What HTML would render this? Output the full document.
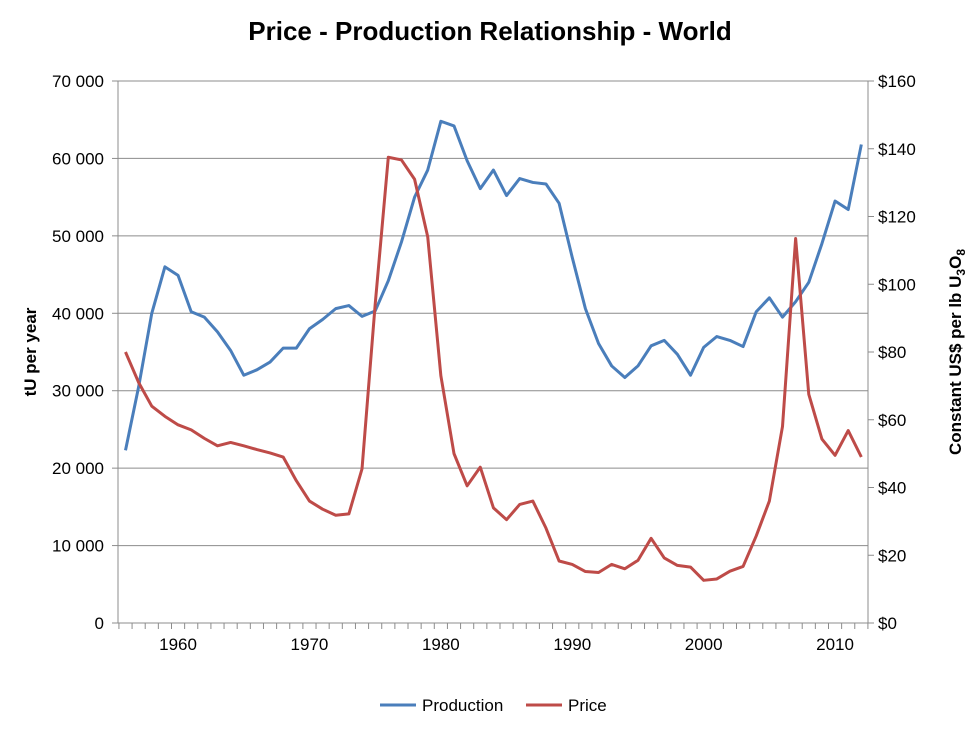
<!DOCTYPE html>
<html><head><meta charset="utf-8"><style>
body{margin:0;background:#fff;font-family:"Liberation Sans","DejaVu Sans",sans-serif}
</style></head><body>
<svg width="975" height="734" xmlns="http://www.w3.org/2000/svg" font-family="Liberation Sans, DejaVu Sans, sans-serif">
<text x="490" y="40" text-anchor="middle" font-size="26" font-weight="bold">Price - Production Relationship - World</text>
<g id="grid"></g><g id="axes"></g><g id="series"></g>
<text transform="translate(36,352) rotate(-90)" text-anchor="middle" font-size="17" font-weight="bold">tU per year</text>
<text transform="translate(961,352) rotate(-90)" text-anchor="middle" font-size="17" font-weight="bold">Constant US$ per lb U<tspan font-size="12" dy="4">3</tspan><tspan dy="-4">O</tspan><tspan font-size="12" dy="4">8</tspan></text>
<g>
<line x1="380" y1="705" x2="416" y2="705" stroke="#4a7ebb" stroke-width="3"/>
<text x="422" y="711" font-size="17">Production</text>
<line x1="526" y1="705" x2="562" y2="705" stroke="#be4b48" stroke-width="3"/>
<text x="568" y="711" font-size="17">Price</text>
</g>
</svg>
<script>
const years=[];for(let y=1956;y<=2012;y++)years.push(y);
const production=[22300,30500,40000,46000,44900,40200,39500,37600,35200,32000,32700,33700,35500,35500,38000,39200,40600,41000,39600,40300,44200,49200,55000,58500,64800,64200,59700,56100,58500,55200,57400,56900,56700,54200,47200,40600,36100,33200,31700,33200,35800,36500,34700,32000,35600,37000,36500,35700,40200,42000,39500,41500,44000,49000,54500,53400,61800];
const price=[80,71,64,61,58.5,57,54.5,52.3,53.3,52.3,51.2,50.2,49,42,36,33.6,31.8,32.2,45.5,94,137.5,136.7,131,114,73,50,40.5,46,34,30.5,35,36,28,18.3,17.3,15.2,14.9,17.3,16,18.5,25,19.2,17,16.5,12.6,13,15.3,16.7,25.7,36,58,113.5,67.5,54.3,49.5,56.8,49];
const leftTicks=[0,10000,20000,30000,40000,50000,60000,70000];
const rightTicks=[0,20,40,60,80,100,120,140,160];
const xLabels=[1960,1970,1980,1990,2000,2010];
const L=118,R=868,T=81,B=623;
const xs=y=>125.5+(y-1956)*13.14;
const yl=v=>B-(v/70000)*(B-T);
const yr=v=>B-(v/160)*(B-T);
const NS="http://www.w3.org/2000/svg";
function mk(tag,attrs,parent,txt){const e=document.createElementNS(NS,tag);for(const k in attrs)e.setAttribute(k,attrs[k]);if(txt!==undefined)e.textContent=txt;document.getElementById(parent).appendChild(e);return e;}
const fmt=v=>v===0?"0":(Math.floor(v/1000)+" 000");
leftTicks.forEach(v=>{
 const g=mk('line',{x1:L,x2:R,y1:yl(v),y2:yl(v),stroke:'#8c8c8c','stroke-width':1},'grid');
 
 
 mk('line',{x1:L-6,x2:L,y1:yl(v),y2:yl(v),stroke:'#8c8c8c'},'axes');
 const t=mk('text',{x:L-14,y:yl(v)+6,'text-anchor':'end','font-size':17},'axes',fmt(v));
 
 
});
rightTicks.forEach(v=>{
 mk('line',{x1:R,x2:R+6,y1:yr(v),y2:yr(v),stroke:'#8c8c8c'},'axes');
 const t=mk('text',{x:R+10,y:yr(v)+6,'font-size':17},'axes','$'+v);
 
 
});
mk('line',{x1:L,x2:L,y1:T,y2:B,stroke:'#8c8c8c'},'axes');
mk('line',{x1:R,x2:R,y1:T,y2:B,stroke:'#8c8c8c'},'axes');
mk('line',{x1:L,x2:R,y1:B,y2:B,stroke:'#8c8c8c'},'axes');
for(let y=1955;y<=2013;y++){const x=125.5+(y-1956.5)*13.14;if(x>=L&&x<=R)mk('line',{x1:x,x2:x,y1:B,y2:B+6,stroke:'#8c8c8c'},'axes');}
xLabels.forEach(y=>{
 const t=mk('text',{x:xs(y),y:B+27,'text-anchor':'middle','font-size':17},'axes',y);
 
 
});
const p1=mk('polyline',{points:years.map((y,i)=>xs(y)+','+yl(production[i])).join(' '),fill:'none',stroke:'#4a7ebb','stroke-width':3,'stroke-linejoin':'round'},'series');


const p2=mk('polyline',{points:years.map((y,i)=>xs(y)+','+yr(price[i])).join(' '),fill:'none',stroke:'#be4b48','stroke-width':3,'stroke-linejoin':'round'},'series');


</script>
</body></html>
